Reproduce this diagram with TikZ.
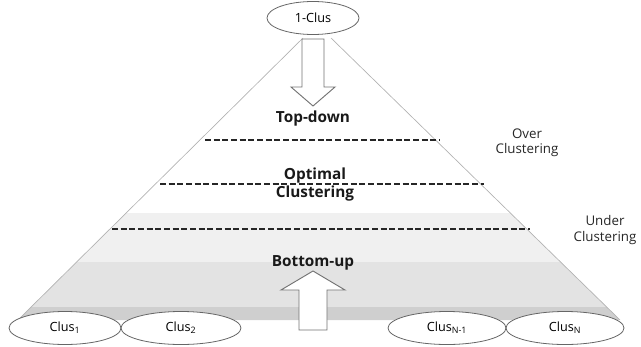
\documentclass[tikz,border=0pt]{standalone}
\usepackage{fontspec}
\setmainfont{Open Sans}
\usetikzlibrary{shapes.geometric}
\begin{document}
\begin{tikzpicture}[x=0.75pt,y=-0.75pt,
  clus/.style={draw=black!60, line width=0.6pt, fill=white, ellipse, inner sep=0pt, font=\fontsize{9.5}{10}\selectfont},
  lbl/.style={font=\fontsize{10}{11.5}\selectfont, align=center, text=black!85},
  bold/.style={font=\fontsize{11.5}{12}\selectfont\bfseries, text=black!90, inner sep=0pt},
  cut/.style={dash pattern=on 4.5pt off 2pt, line width=1.1pt, black!85},
  hollow/.style={draw=black!55, fill=white, line width=0.7pt, line join=miter}]
\useasboundingbox (0,0) rectangle (641,346);
% trapezoid
\begin{scope}
\clip (303,38) -- (331,38) -- (620,320) -- (18,320) -- cycle;
\fill[black!6] (0,213) rectangle (641,262);
\fill[black!11] (0,262) rectangle (641,307);
\fill[black!19] (0,307) rectangle (641,330);
\end{scope}
\draw[black!30, line width=0.5pt] (303,38) -- (18,320);
\draw[black!30, line width=0.5pt] (331,38) -- (620,320);
% dashed cuts
\draw[cut] (205,140) -- (440,140);
\draw[cut] (160,184) -- (484,184);
\draw[cut] (112,229) -- (530,229);
% top cluster
\node[clus, minimum width=92*0.75pt, minimum height=33*0.75pt] (top) at (313,18) {1-Clus};
% down arrow
\draw[hollow] (302,39) -- (324,39) -- (324,87) -- (335,87) -- (313,106) -- (291,87) -- (302,87) -- cycle;
\node[bold] (td) at (313,119) {Top-down};
\node[bold, align=center, font=\fontsize{11.5}{13.5}\selectfont\bfseries] (opt) at (315,185) {Optimal\\Clustering};
\node[lbl] (over) at (527,143) {Over\\Clustering};
\node[lbl] (under) at (605,230) {Under\\Clustering};
\node[bold] (bu) at (313,263) {Bottom-up};
% up arrow
\draw[hollow] (299,330) -- (327,330) -- (327,290) -- (345,290) -- (313,271) -- (281,290) -- (299,290) -- cycle;
% bottom clusters
\node[clus, minimum width=112*0.75pt, minimum height=33*0.75pt] (c1) at (65,328) {Clus\textsubscript{1}};
\node[clus, minimum width=120*0.75pt, minimum height=33*0.75pt] (c2) at (181,328) {Clus\textsubscript{2}};
\node[clus, minimum width=118*0.75pt, minimum height=33*0.75pt] (cn1) at (447,328) {Clus\textsubscript{N-1}};
\node[clus, minimum width=118*0.75pt, minimum height=33*0.75pt] (cn) at (565,328) {Clus\textsubscript{N}};
\end{tikzpicture}
\end{document}
